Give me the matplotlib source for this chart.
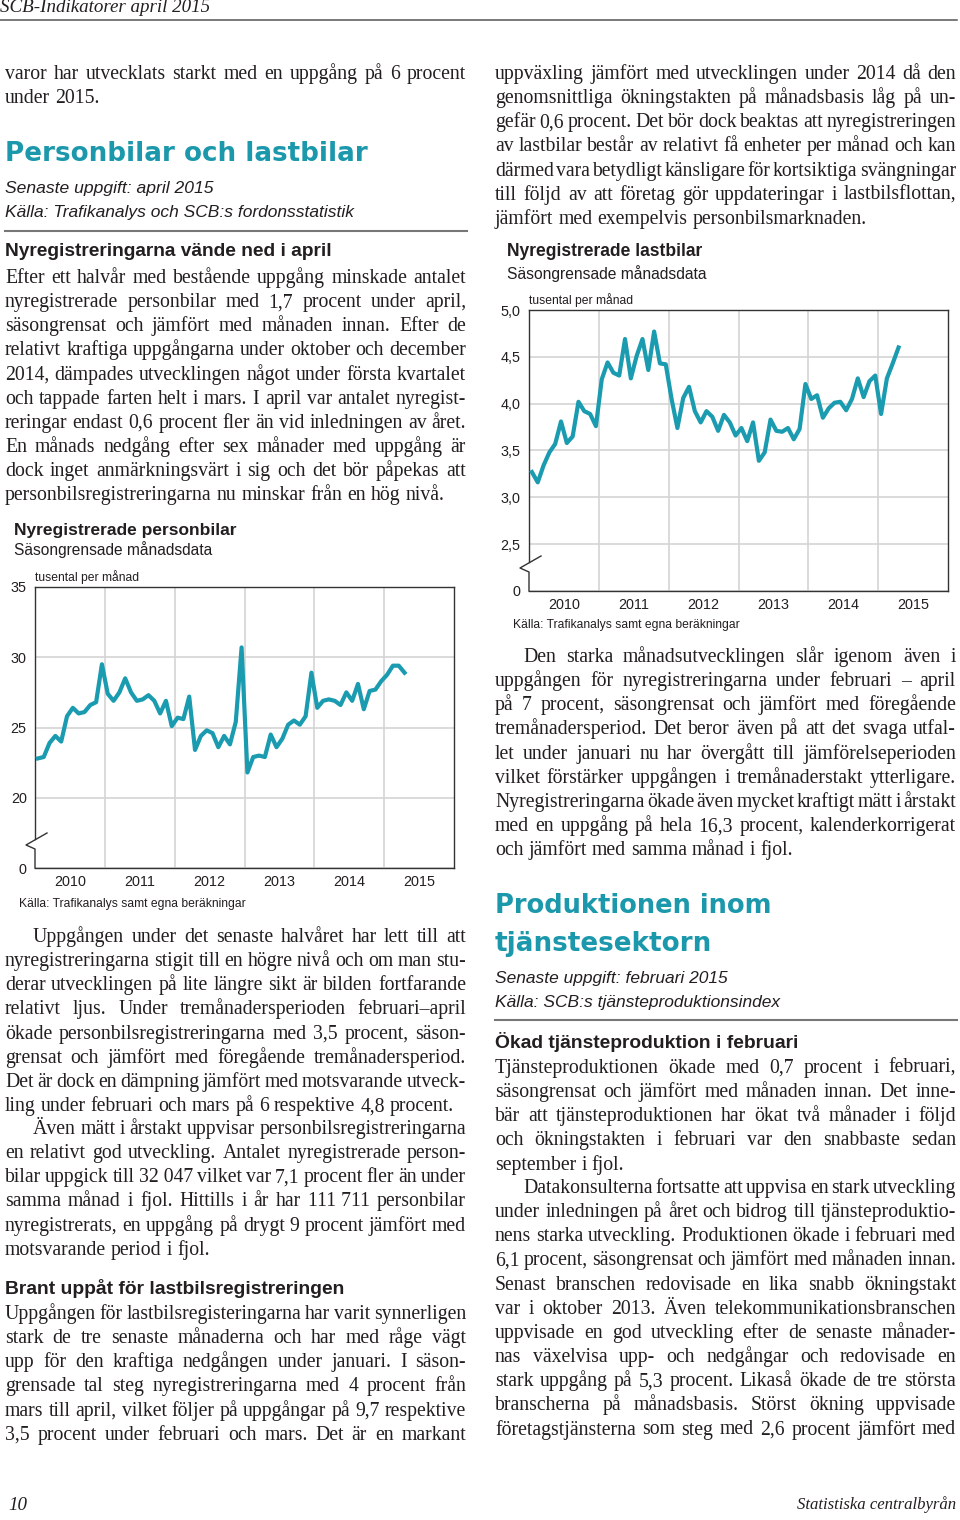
import numpy as np
import matplotlib
matplotlib.use('Agg')
import matplotlib.pyplot as plt
from matplotlib.font_manager import FontProperties

W, H = 960, 1520
TEAL = '#1a9bb0'
HEAD = '#1b98ab'
INK = '#231f20'
GRID = '#d4d4d4'
FRAME = '#333333'
SERIF = 'Liberation Serif'
SANS = 'Liberation Sans'
LEAD = 24.15
COL = 461

# ---- chart data (thousands per month, seasonally adjusted, Jan 2010 - Apr 2015)
years = ['2010', '2011', '2012', '2013', '2014', '2015']
personbilar = [
    22.8, 22.9, 23.9, 24.4, 24.0, 25.8, 26.4, 26.0, 26.1, 26.6, 26.8, 29.5,
    27.4, 26.9, 27.5, 28.5, 27.5, 26.9, 27.0, 27.3, 26.9, 26.0, 26.9, 25.1,
    25.7, 25.6, 27.2, 23.4, 24.4, 24.8, 24.6, 23.6, 24.4, 23.8, 25.4, 30.7,
    21.8, 22.9, 23.0, 22.9, 24.5, 23.6, 24.2, 25.2, 25.5, 25.2, 25.8, 28.9,
    26.4, 26.9, 27.0, 26.9, 26.6, 27.5, 26.9, 28.1, 26.3, 27.6, 27.7, 28.3,
    28.75, 29.4, 29.4, 28.9,
]
lastbilar = [
    3.27, 3.16, 3.34, 3.48, 3.57, 3.81, 3.58, 3.65, 4.02, 3.92, 3.89, 3.76,
    4.26, 4.44, 4.33, 4.30, 4.69, 4.27, 4.51, 4.69, 4.36, 4.77, 4.43, 4.42,
    4.05, 3.74, 4.06, 4.18, 3.92, 3.80, 3.92, 3.86, 3.71, 3.88, 3.80, 3.66,
    3.74, 3.60, 3.80, 3.39, 3.48, 3.83, 3.71, 3.70, 3.74, 3.62, 3.73, 4.21,
    4.05, 4.09, 3.85, 3.95, 4.01, 4.02, 3.93, 4.05, 4.27, 4.07, 4.24, 4.30,
    3.89, 4.27, 4.43, 4.60,
]
pb_ticks = [15, 20, 25, 30, 35]          # 15 stands in for the broken-axis zero
pb_ticklabels = ['0', '20', '25', '30', '35']
lb_ticks = [2.0, 2.5, 3.0, 3.5, 4.0, 4.5, 5.0]
lb_ticklabels = ['0', '2,5', '3,0', '3,5', '4,0', '4,5', '5,0']

# ---- page text
intro = ["varor har utvecklats starkt med en uppgång på 6 procent",
         "under 2015."]
para1 = ["Efter ett halvår med bestående uppgång minskade antalet",
         "nyregistrerade personbilar med 1,7 procent under april,",
         "säsongrensat och jämfört med månaden innan. Efter de",
         "relativt kraftiga uppgångarna under oktober och december",
         "2014, dämpades utvecklingen något under första kvartalet",
         "och tappade farten helt i mars. I april var antalet nyregist-",
         "reringar endast 0,6 procent fler än vid inledningen av året.",
         "En månads nedgång efter sex månader med uppgång är",
         "dock inget anmärkningsvärt i sig och det bör påpekas att",
         "personbilsregistreringarna nu minskar från en hög nivå."]
para2 = ["Uppgången under det senaste halvåret har lett till att",
         "nyregistreringarna stigit till en högre nivå och om man stu-",
         "derar utvecklingen på lite längre sikt är bilden fortfarande",
         "relativt ljus. Under tremånadersperioden februari–april",
         "ökade personbilsregistreringarna med 3,5 procent, säson-",
         "grensat och jämfört med föregående tremånadersperiod.",
         "Det är dock en dämpning jämfört med motsvarande utveck-",
         "ling under februari och mars på 6 respektive 4,8 procent."]
para3 = ["Även mätt i årstakt uppvisar personbilsregistreringarna",
         "en relativt god utveckling. Antalet nyregistrerade person-",
         "bilar uppgick till 32\u00a0047 vilket var 7,1 procent fler än under",
         "samma månad i fjol. Hittills i år har 111\u00a0711 personbilar",
         "nyregistrerats, en uppgång på drygt 9 procent jämfört med",
         "motsvarande period i fjol."]
para4a = ["Uppgången för lastbilsregisteringarna har varit synnerligen",
          "stark de tre senaste månaderna och har med råge vägt",
          "upp för den kraftiga nedgången under januari. I säson-",
          "grensade tal steg nyregistreringarna med 4 procent från",
          "mars till april, vilket följer på uppgångar på 9,7 respektive",
          "3,5 procent under februari och mars. Det är en markant"]
para4b = ["uppväxling jämfört med utvecklingen under 2014 då den",
          "genomsnittliga ökningstakten på månadsbasis låg på un-",
          "gefär 0,6 procent. Det bör dock beaktas att nyregistreringen",
          "av lastbilar består av relativt få enheter per månad och kan",
          "därmed vara betydligt känsligare för kortsiktiga svängningar",
          "till följd av att företag gör uppdateringar i lastbilsflottan,",
          "jämfört med exempelvis personbilsmarknaden."]
para5 = ["Den starka månadsutvecklingen slår igenom även i",
         "uppgången för nyregistreringarna under februari – april",
         "på 7 procent, säsongrensat och jämfört med föregående",
         "tremånadersperiod. Det beror även på att det svaga utfal-",
         "let under januari nu har övergått till jämförelseperioden",
         "vilket förstärker uppgången i tremånaderstakt ytterligare.",
         "Nyregistreringarna ökade även mycket kraftigt mätt i årstakt",
         "med en uppgång på hela 16,3 procent, kalenderkorrigerat",
         "och jämfört med samma månad i fjol."]
para6 = ["Tjänsteproduktionen ökade med 0,7 procent i februari,",
         "säsongrensat och jämfört med månaden innan. Det inne-",
         "bär att tjänsteproduktionen har ökat två månader i följd",
         "och ökningstakten i februari var den snabbaste sedan",
         "september i fjol."]
para7 = ["Datakonsulterna fortsatte att uppvisa en stark utveckling",
         "under inledningen på året och bidrog till tjänsteproduktio-",
         "nens starka utveckling. Produktionen ökade i februari med",
         "6,1 procent, säsongrensat och jämfört med månaden innan.",
         "Senast branschen redovisade en lika snabb ökningstakt",
         "var i oktober 2013. Även telekommunikationsbranschen",
         "uppvisade en god utveckling efter de senaste månader-",
         "nas växelvisa upp- och nedgångar och redovisade en",
         "stark uppgång på 5,3 procent. Likaså ökade de tre största",
         "branscherna på månadsbasis. Störst ökning uppvisade",
         "företagstjänsterna som steg med 2,6 procent jämfört med"]

# (lines, first-line indent, last line justified)
layout = [(intro, 0, False), (para1, 0, False), (para2, 28, False),
          (para3, 28, False), (para4a, 0, True), (para4b, 0, False),
          (para5, 28, False), (para6, 0, False), (para7, 28, True)]

fig = plt.figure(figsize=(W / 100, H / 100), dpi=100, facecolor='white')
page = fig.add_axes([0, 0, 1, 1])
page.set_xlim(0, W)
page.set_ylim(H, 0)
page.axis('off')
renderer = fig.canvas.get_renderer()


def text_width(s, prop):
    return renderer.get_text_width_height_descent(s, prop, ismath=False)[0]


def fitted(x, y, s, width, ha='left', color=INK, **font):
    prop = FontProperties(size=20, **font)
    prop.set_size(20 * width / text_width(s, prop))
    page.text(x, y, s, fontproperties=prop, ha=ha, va='center', color=color)


# body size: most justified lines should fill the column at natural spacing
body = FontProperties(family=SERIF, size=20)
natural = []
for lines, indent, lastj in layout:
    for i, s in enumerate(lines):
        if i < len(lines) - 1 or lastj:
            natural.append(text_width(s, body) + (indent if i == 0 else 0))
body.set_size(20 * COL / np.percentile(natural, 75))
SPACE = text_width('a a', body) - text_width('aa', body)


def paragraph(x0, y0, lines, indent=0, last_justified=False):
    for i, line in enumerate(lines):
        x = x0 + (indent if i == 0 else 0)
        w = COL - (indent if i == 0 else 0)
        words = line.split(' ')
        prop = body.copy()
        ws = [text_width(wd, prop) for wd in words]
        justify = len(words) > 1 and (i < len(lines) - 1 or last_justified)
        if justify:
            gap = (w - sum(ws)) / (len(words) - 1)
            if gap < 0.55 * SPACE:
                # too long even when squeezed: shrink this line a touch
                need = w - 0.55 * SPACE * (len(words) - 1)
                prop.set_size(body.get_size() * need / sum(ws))
                ws = [text_width(wd, prop) for wd in words]
                gap = (w - sum(ws)) / (len(words) - 1)
        else:
            gap = SPACE
        for wd, ww in zip(words, ws):
            page.text(x, y0 + i * LEAD + 6, wd, fontproperties=prop,
                      va='baseline', ha='left', color=INK)
            x += ww + gap


# header / footer
fitted(0, 8, 'SCB-Indikatorer april 2015', 210, family=SERIF, style='italic')
page.plot([0, 957], [19.5, 19.5], color='#555555', lw=1.1)
fitted(8, 1505, '10', 19, family=SERIF, style='italic')
fitted(956, 1505, 'Statistiska centralbyrån', 160, ha='right', family=SERIF, style='italic')

# left column
paragraph(5, 73, intro)
fitted(5, 154, 'Personbilar och lastbilar', 362, color=HEAD, family='DejaVu Sans', weight='bold')
fitted(5, 188, 'Senaste uppgift: april 2015', 207, family=SANS, style='italic')
fitted(5, 212, 'Källa: Trafikanalys och SCB:s fordonsstatistik', 348, family=SANS, style='italic')
page.plot([5, 467], [230.5, 230.5], color='#777777', lw=1.5)
fitted(5, 252, 'Nyregistreringarna vände ned i april', 328, family=SANS, weight='bold')
paragraph(5, 277, para1)
paragraph(5, 936, para2, indent=28)
paragraph(5, 1128, para3, indent=28)
fitted(5, 1289, 'Brant uppåt för lastbilsregistreringen', 340, family=SANS, weight='bold')
paragraph(5, 1313, para4a, last_justified=True)

# right column
paragraph(495, 73, para4b)
paragraph(495, 656, para5, indent=28)
fitted(495, 906, 'Produktionen inom', 277, color=HEAD, family='DejaVu Sans', weight='bold')
fitted(495, 944, 'tjänstesektorn', 217, color=HEAD, family='DejaVu Sans', weight='bold')
fitted(495, 978, 'Senaste uppgift: februari 2015', 232, family=SANS, style='italic')
fitted(495, 1002, 'Källa: SCB:s tjänsteproduktionsindex', 284, family=SANS, style='italic')
page.plot([495, 957], [1020, 1020], color='#777777', lw=1.5)
fitted(495, 1042, 'Ökad tjänsteproduktion i februari', 303, family=SANS, weight='bold')
paragraph(495, 1067, para6)
paragraph(495, 1187, para7, indent=28, last_justified=True)

month_x = 2010 + (np.arange(len(personbilar)) + 0.5) / 12


def chart(box, values, ylim, ticks, ticklabels):
    l, t, r, b = box
    ax = fig.add_axes([l / W, 1 - b / H, (r - l) / W, (b - t) / H])
    ax.patch.set_visible(False)
    ax.set_xlim(2010, 2016)
    ax.set_ylim(*ylim)
    ax.set_xticks(range(2011, 2016))
    ax.set_xticklabels([])
    ax.set_xticks(np.arange(2010.5, 2016), minor=True)
    ax.set_xticklabels(years, minor=True, fontsize=10.4, family=SANS, color=INK)
    ax.set_yticks(ticks)
    ax.set_yticklabels(ticklabels, fontsize=10.4, family=SANS, color=INK)
    ax.tick_params(which='both', length=0)
    ax.tick_params(axis='x', which='minor', pad=5)
    ax.tick_params(axis='y', pad=6)
    ax.grid(True, which='major', color=GRID, lw=1.2)
    ax.set_axisbelow(True)
    ax.plot(month_x[:len(values)], values, color=TEAL, lw=3, zorder=3)
    for s in ['top', 'right', 'bottom']:
        ax.spines[s].set_color(FRAME)
        ax.spines[s].set_linewidth(1.0)
    ax.spines['left'].set_visible(False)
    # left spine with the axis-break zigzag
    w, h = r - l, b - t
    ax.plot([0, 0], [1, 29 / h], transform=ax.transAxes, clip_on=False, color=FRAME, lw=1.0)
    ax.plot([12 / w, -9 / w, 0, 0], [35 / h, 23 / h, 19 / h, 0],
            transform=ax.transAxes, clip_on=False, color=FRAME, lw=1.0)
    return ax


# chart 1: personbilar
fitted(14, 530, 'Nyregistrerade personbilar', 221, family=SANS, weight='bold')
fitted(14, 550, 'Säsongrensade månadsdata', 198, family=SANS)
fitted(35, 577, 'tusental per månad', 103, family=SANS)
chart((35, 587, 454, 868), personbilar, (15, 35), pb_ticks, pb_ticklabels)
fitted(19, 904, 'Källa: Trafikanalys samt egna beräkningar', 226, family=SANS)

# chart 2: lastbilar
fitted(507, 252, 'Nyregistrerade lastbilar', 195, family=SANS, weight='bold')
fitted(507, 274, 'Säsongrensade månadsdata', 199, family=SANS)
fitted(529, 300, 'tusental per månad', 104, family=SANS)
chart((529, 310, 948, 591), lastbilar, (2.0, 5.0), lb_ticks, lb_ticklabels)
fitted(513, 625, 'Källa: Trafikanalys samt egna beräkningar', 225, family=SANS)

fig.savefig('out.png', dpi=100)
